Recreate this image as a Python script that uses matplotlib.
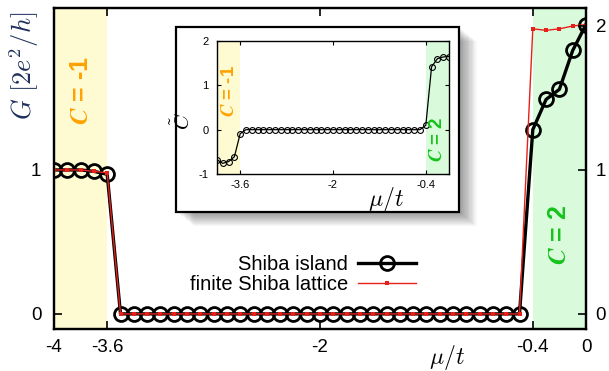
import matplotlib
matplotlib.use("Agg")
import matplotlib.pyplot as plt
from matplotlib.patches import Rectangle

plt.rcParams['font.family'] = ['Liberation Sans', 'DejaVu Sans']
plt.rcParams['mathtext.fontset'] = 'cm'

mu = [-4.0, -3.9, -3.8, -3.7, -3.6, -3.5, -3.4, -3.3, -3.2, -3.1, -3.0,
      -2.9, -2.8, -2.7, -2.6, -2.5, -2.4, -2.3, -2.2, -2.1, -2.0,
      -1.9, -1.8, -1.7, -1.6, -1.5, -1.4, -1.3, -1.2, -1.1, -1.0,
      -0.9, -0.8, -0.7, -0.6, -0.5, -0.4, -0.3, -0.2, -0.1, 0.0]
G_island = [1.0, 1.0, 1.0, 0.99, 0.97, 0, 0, 0, 0, 0, 0,
            0, 0, 0, 0, 0, 0, 0, 0, 0, 0,
            0, 0, 0, 0, 0, 0, 0, 0, 0, 0,
            0, 0, 0, 0, 0, 1.28, 1.49, 1.56, 1.83, 2.01]
G_lattice = [1.0, 1.0, 1.0, 0.99, 0.98, 0, 0, 0, 0, 0, 0,
             0, 0, 0, 0, 0, 0, 0, 0, 0, 0,
             0, 0, 0, 0, 0, 0, 0, 0, 0, 0,
             0, 0, 0, 0, 0, 1.98, 1.97, 1.98, 2.0, 2.01]
C_tilde = [-0.68, -0.76, -0.72, -0.61, -0.09, 0, 0, 0, 0, 0, 0,
           0, 0, 0, 0, 0, 0, 0, 0, 0, 0,
           0, 0, 0, 0, 0, 0, 0, 0, 0, 0,
           0, 0, 0, 0, 0, 0.1, 1.42, 1.6, 1.64, 1.65]

xticks = [-4, -3.6, -2, -0.4, 0]
xticklabels = ['-4', '-3.6', '-2', '-0.4', '0']
phase_left = (-4, -3.6)
phase_right = (-0.4, 0)

yellow = '#fefbd3'
green = '#d9fbdc'
orange = '#ffa200'
dgreen = '#16c21a'

fig = plt.figure(figsize=(6.09, 3.71), dpi=100)
ax = fig.add_axes([54/609, 1-329/371, 532/609, 321/371])
ax.axvspan(*phase_left, color=yellow, lw=0, zorder=0)
ax.axvspan(*phase_right, color=green, lw=0, zorder=0)
ax.plot(mu, G_island, '-o', color='black', lw=2.4, ms=10, mfc='none', mew=2.0,
        label='Shiba island', zorder=3)
ax.plot(mu, G_lattice, '-s', color='#e8201a', lw=1.0, ms=3.5, mew=0,
        label='finite Shiba lattice', zorder=4)
ax.set_xlim(-4, 0)
ax.set_ylim(-0.105, 2.125)
ax.set_xticks(xticks)
ax.set_xticklabels(xticklabels, fontsize=13.5)
ax.set_yticks([0, 1])
ax.set_yticklabels(['0', '1'], fontsize=13.5)
ax.tick_params(axis='both', direction='in', length=6, width=1.2, top=True, pad=7)
ax.tick_params(axis='y', pad=9)
for s in ax.spines.values():
    s.set_linewidth(1.6)
axr = ax.twinx()
axr.set_ylim(ax.get_ylim())
axr.set_yticks([0, 1, 2])
axr.set_yticklabels(['0', '1', '2'], fontsize=13.5)
axr.tick_params(axis='y', direction='in', length=6, width=1.2, pad=7)
for s in axr.spines.values():
    s.set_linewidth(1.6)

ax.text(-0.057, 0.99, r'$G\ [2e^2/h]$', transform=ax.transAxes, rotation=90,
        ha='center', va='top', fontsize=19, color='#1e2f5c')
ax.text(0.739, -0.045, r'$\mu/t$', transform=ax.transAxes, ha='center', va='top',
        fontsize=17)
ax.text(-3.8, 1.55, r'$\mathbfit{C}$ = -1', rotation=90, ha='center', va='center',
        fontsize=18, color=orange, fontweight='bold')
ax.text(-0.2, 0.55, r'$\mathbfit{C}$ = 2', rotation=90, ha='center', va='center',
        fontsize=18, color=dgreen, fontweight='bold')

ax.legend(loc='center right', bbox_to_anchor=(0.70, 0.17), frameon=False,
          markerfirst=False, fontsize=14.5, handlelength=2.9, labelspacing=0.08,
          handletextpad=0.5, borderpad=0)

# inset frame with shadow
fx0, fy0, fw, fh = 176/609, 1-212/371, 283/609, 185/371
for i in range(14, 0, -1):
    off = i * 0.0016
    fig.patches.append(Rectangle((fx0 + off*1.3, fy0 - off*1.7), fw, fh,
                                 transform=fig.transFigure, facecolor='black',
                                 alpha=0.03, lw=0, zorder=5))
fig.patches.append(Rectangle((fx0, fy0), fw, fh, transform=fig.transFigure,
                             facecolor='white', edgecolor='black', lw=1.6, zorder=6))

axi = fig.add_axes([217/609, 1-174/371, 232/609, 133/371], zorder=10)
axi.axvspan(*phase_left, color=yellow, lw=0, zorder=0)
axi.axvspan(*phase_right, color=green, lw=0, zorder=0)
axi.plot(mu, C_tilde, '-o', color='black', lw=0.9, ms=4.2, mfc='none', mew=0.8)
axi.set_xlim(-4, 0)
axi.set_ylim(-1, 2)
axi.set_xticks([-3.6, -2, -0.4])
axi.set_xticklabels(['-3.6', '-2', '-0.4'], fontsize=8)
axi.set_yticks([-1, 0, 1, 2])
axi.set_yticklabels(['-1', '0', '1', '2'], fontsize=8)
axi.tick_params(axis='both', direction='in', length=3, width=0.8, top=True, right=True, pad=4)
axi.tick_params(axis='y', pad=6)
for s in axi.spines.values():
    s.set_linewidth(1.0)
axi.text(-0.15, 0.4, r'$\tilde{C}$', transform=axi.transAxes, rotation=90,
         ha='center', va='center', fontsize=15)
axi.text(0.73, -0.08, r'$\mu/t$', transform=axi.transAxes, ha='center', va='top',
         fontsize=17)
axi.text(-3.79, 0.88, r'$\mathbfit{C}$ = -1', rotation=90, ha='center', va='center',
         fontsize=13.5, color=orange, fontweight='bold')
axi.text(-0.2, -0.22, r'$\mathbfit{C}$ = 2', rotation=90, ha='center', va='center',
         fontsize=13.5, color=dgreen, fontweight='bold')

fig.savefig('out.png', dpi=100)
